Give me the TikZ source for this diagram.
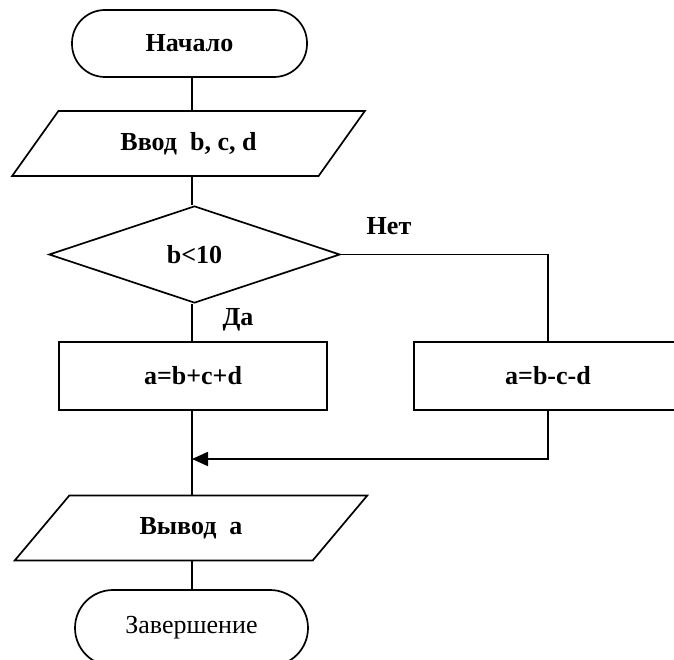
\documentclass[tikz,border=0pt]{standalone}
\usepackage{fontspec}
\setmainfont{Liberation Serif}
\usetikzlibrary{shapes.geometric,arrows.meta}
\tikzset{
  base/.style={draw, line width=1.7pt, inner sep=0pt, font=\fontsize{26}{30}\selectfont\bfseries},
  term/.style={base, rectangle, rounded corners=33pt, minimum width=235pt, minimum height=67pt},
  io/.style={base, trapezium, trapezium left angle=43, trapezium right angle=137, trapezium stretches=true, minimum width=353pt, minimum height=65pt},
  dec/.style={base, diamond, minimum width=291pt, minimum height=97pt},
  proc/.style={base, rectangle, minimum width=268pt, minimum height=68pt},
  conn/.style={line width=1.7pt},
  lbl/.style={font=\fontsize{26}{30}\selectfont\bfseries}
}
\begin{document}
\begin{tikzpicture}[x=1pt,y=-1pt]
\useasboundingbox (0,0) rectangle (674,660);
\coordinate (spine) at (192,0);
\node[term] (start) at (189.5,43.5) {Начало};
\node[io] (in) at (188.5,143.5) {Ввод\ \ b, c, d};
\node[dec] (cond) at (194.5,254.5) {b<10};
\node[proc] (lbox) at (193,376) {a=b+c+d};
\node[proc] (rbox) at (548,376) {a=b-c-d};
\node[io] (out) at (191,528) {Вывод\ \ a};
\node[term, rounded corners=38pt, minimum width=233pt, minimum height=76pt, font=\fontsize{26}{30}\selectfont] (end) at (191.5,628) {Завершение};
\node[lbl] (no) at (389,226) {Нет};
\node[lbl] (yes) at (238,320) {Да};
\coordinate (merge) at (192,459);
\draw[conn] (start.south -| spine) -- (in.north -| spine);
\draw[conn] (in.south -| spine) -- (cond.north -| spine);
\draw[conn] (cond.south -| spine) -- (lbox.north -| spine);
\draw[conn] (cond.east) -| (rbox.north);
\draw[conn] (lbox.south -| spine) -- (out.north -| spine);
\draw[conn, -{Triangle[length=16pt,width=14pt]}] (rbox.south) |- (merge);
\draw[conn] (out.south -| spine) -- (end.north -| spine);
\end{tikzpicture}
\end{document}
